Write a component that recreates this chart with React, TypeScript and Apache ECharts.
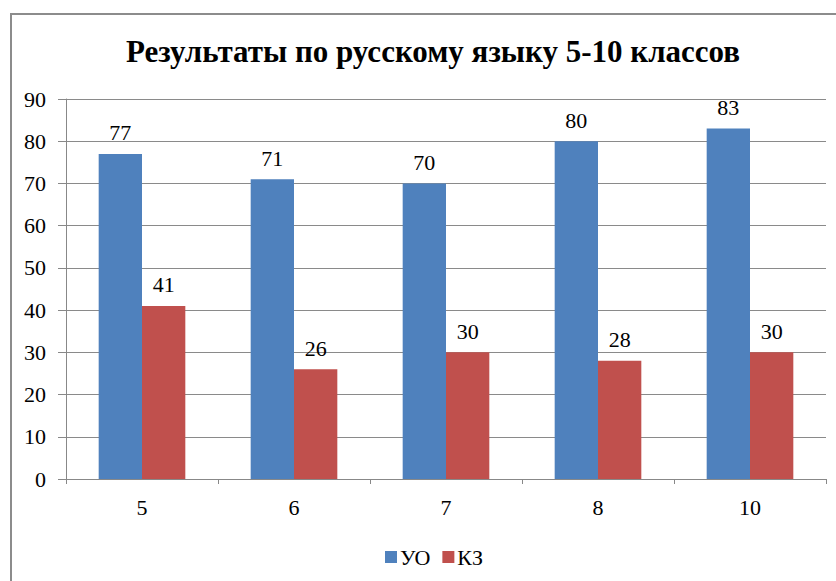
import React, { useEffect, useRef } from "react";
import * as echarts from "echarts";

const categories = ["5", "6", "7", "8", "10"];
const uoValues = [77, 71, 70, 80, 83];
const kzValues = [41, 26, 30, 28, 30];
const seriesNames = ["УО", "КЗ"];
const titleText = "Результаты по русскому языку 5-10 классов";

const FONT = "'Liberation Serif', 'Times New Roman', Times, serif";

export default function App() {
  const ref = useRef<HTMLDivElement>(null);
  useEffect(() => {
    if (!ref.current) return;
    const chart = echarts.init(ref.current, null, { renderer: "svg" });
    const labelStyle = {
      show: true,
      position: "top" as const,
      color: "#000",
      fontFamily: FONT,
      fontSize: 22,
      distance: 10,
    };
    chart.setOption({
      animation: false,
      backgroundColor: "#fff",
      textStyle: { fontFamily: FONT },
      graphic: [
        {
          type: "rect",
          shape: { x: 11, y: 14, width: 900, height: 700 },
          style: { fill: "none", stroke: "#8c8c8c", lineWidth: 2 },
          silent: true,
        },
      ],
      title: {
        text: titleText,
        left: 428,
        textAlign: "center",
        top: 31,
        textStyle: {
          fontFamily: FONT,
          fontWeight: "bold",
          fontSize: 31,
          color: "#000",
        },
      },
      legend: {
        data: seriesNames,
        left: 380,
        top: 541,
        itemWidth: 12,
        itemHeight: 12,
        itemGap: 12,
        icon: "rect",
        textStyle: { fontFamily: FONT, fontSize: 22, color: "#000", padding: [0, 0, 0, -2] },
      },
      grid: { left: 66, right: 10, top: 99, bottom: 102, containLabel: false },
      xAxis: {
        type: "category",
        data: categories,
        axisLine: { show: true, lineStyle: { color: "#888", width: 1 } },
        axisTick: { show: true, length: 5, lineStyle: { color: "#888" } },
        axisLabel: { fontFamily: FONT, fontSize: 22, color: "#000", margin: 17 },
      },
      yAxis: {
        type: "value",
        min: 0,
        max: 90,
        interval: 10,
        axisLine: { show: true, lineStyle: { color: "#888", width: 1 } },
        axisTick: { show: true, length: 8, lineStyle: { color: "#888" } },
        axisLabel: { fontFamily: FONT, fontSize: 22, color: "#000", margin: 20 },
        splitLine: { show: true, lineStyle: { color: "#8a8a8a", width: 1 } },
      },
      series: [
        {
          name: seriesNames[0],
          type: "bar",
          data: uoValues,
          itemStyle: { color: "#4F81BD" },
          barGap: "0%",
          barCategoryGap: "43%",
          label: labelStyle,
        },
        {
          name: seriesNames[1],
          type: "bar",
          data: kzValues,
          itemStyle: { color: "#C0504D" },
          barGap: "0%",
          barCategoryGap: "43%",
          label: labelStyle,
        },
      ],
    });
    return () => chart.dispose();
  }, []);
  return (
    <div
      ref={ref}
      style={{ position: "fixed", left: 0, top: 0, width: 836, height: 581 }}
    />
  );
}
